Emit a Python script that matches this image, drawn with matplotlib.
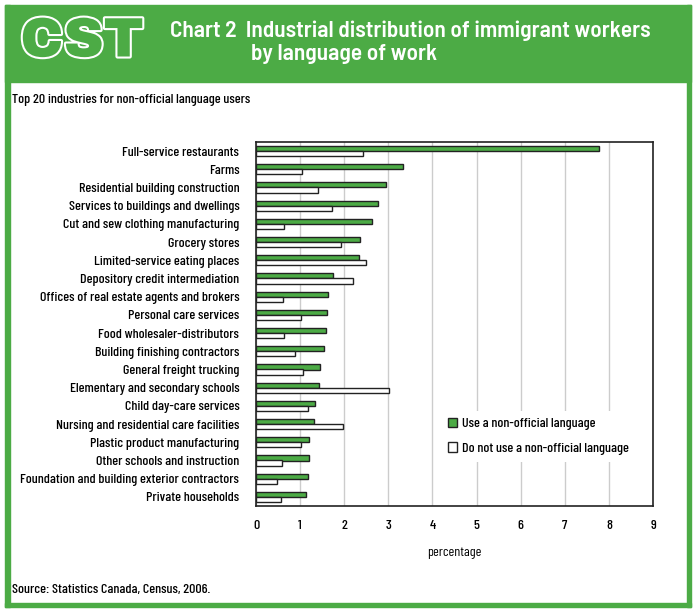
import numpy as np
import matplotlib
matplotlib.use("Agg")
import matplotlib.pyplot as plt
import matplotlib.patheffects as pe
from matplotlib.patches import Rectangle, Patch

industries = [
    "Full-service restaurants",
    "Farms",
    "Residential building construction",
    "Services to buildings and dwellings",
    "Cut and sew clothing manufacturing",
    "Grocery stores",
    "Limited-service eating places",
    "Depository credit intermediation",
    "Offices of real estate agents and brokers",
    "Personal care services",
    "Food wholesaler-distributors",
    "Building finishing contractors",
    "General freight trucking",
    "Elementary and secondary schools",
    "Child day-care services",
    "Nursing and residential care facilities",
    "Plastic product manufacturing",
    "Other schools and instruction",
    "Foundation and building exterior contractors",
    "Private households",
]
use_nonofficial = [7.78, 3.33, 2.95, 2.77, 2.63, 2.36, 2.34, 1.75, 1.63, 1.61,
                   1.59, 1.54, 1.45, 1.43, 1.34, 1.32, 1.20, 1.20, 1.18, 1.13]
not_use_nonofficial = [2.43, 1.04, 1.41, 1.72, 0.63, 1.93, 2.49, 2.20, 0.61, 1.02,
                       0.63, 0.88, 1.07, 3.02, 1.18, 1.97, 1.02, 0.59, 0.48, 0.57]
xticks = list(range(0, 10))

GREEN = "#4cab45"
EDGE = "#222222"
W, H = 695, 614
FS = 10.1
plt.rcParams["font.family"] = ["Barlow Condensed", "DejaVu Sans"]
plt.rcParams["font.weight"] = "medium"


def fx(x):
    return x / W


def fy(y):
    return 1 - y / H


fig = plt.figure(figsize=(W / 100, H / 100), dpi=100)

# green frame and header, in pixel coords of the picture
def frame_rect(x0, y0, x1, y1):
    fig.patches.append(Rectangle((fx(x0), fy(y1)), fx(x1) - fx(x0), fy(y0) - fy(y1),
                                 transform=fig.transFigure, color=GREEN, zorder=0))

frame_rect(5, 5, 691, 82)
frame_rect(5, 5, 10, 607)
frame_rect(687, 5, 691, 607)
frame_rect(5, 603, 691, 607)

# outlined logo letters
fig.text(fx(82), fy(42), "CST", ha="center", va="center", fontsize=40,
         family=["Archivo Black", "DejaVu Sans"], color=GREEN,
         path_effects=[pe.withStroke(linewidth=3, foreground="white")])
title_font = dict(fontsize=16.8, fontweight="semibold", color="white",
                  family=["Barlow Semi Condensed", "Barlow Condensed", "DejaVu Sans"])
fig.text(fx(170), fy(31), "Chart 2  Industrial distribution of immigrant workers",
         ha="left", va="center", **title_font)
fig.text(fx(251), fy(54), "by language of work", ha="left", va="center", **title_font)
fig.text(fx(12), fy(100), "Top 20 industries for non-official language users",
         ha="left", va="center", fontsize=FS, color="black")
fig.text(fx(12), fy(590), "Source: Statistics Canada, Census, 2006.",
         ha="left", va="center", fontsize=FS, color="black")

ax = fig.add_axes([fx(256), fy(506), fx(653) - fx(256), fy(142) - fy(506)])
y = np.arange(len(industries))
h = 0.275
ax.barh(y - h / 2, use_nonofficial, height=h, color=GREEN, edgecolor=EDGE,
        linewidth=1, zorder=3)
ax.barh(y + h / 2, not_use_nonofficial, height=h, color="white", edgecolor=EDGE,
        linewidth=1, zorder=3)

ax.set_ylim(len(industries) - 0.5, -0.5)
ax.set_xlim(0, 9)
ax.set_xticks(xticks)
ax.set_yticks(y)
ax.set_yticklabels(industries)
ax.tick_params(axis="both", length=0, labelsize=FS)
ax.tick_params(axis="x", pad=10)
ax.tick_params(axis="y", pad=12)
ax.grid(axis="x", color="#cccccc", linewidth=1, zorder=0)
ax.set_axisbelow(True)
for s in ax.spines.values():
    s.set_color(EDGE)
    s.set_linewidth(1.2)
ax.set_xlabel("percentage", fontsize=FS, labelpad=10)

handles = [Patch(facecolor=GREEN, edgecolor=EDGE, linewidth=1),
           Patch(facecolor="white", edgecolor=EDGE, linewidth=1)]
labels = ["Use a non-official language", "Do not use a non-official language"]
leg = ax.legend(handles, labels, loc="upper left", bbox_to_anchor=(0.465, 0.262),
                frameon=True, fontsize=FS, handlelength=0.7, handleheight=0.7,
                labelspacing=0.85, borderpad=0.5, handletextpad=0.35,
                borderaxespad=0)
leg.get_frame().set_edgecolor("none")
leg.get_frame().set_facecolor("white")
leg.get_frame().set_alpha(1)
leg.get_frame().set_boxstyle("square", pad=0)

fig.savefig("out.png", dpi=100)
